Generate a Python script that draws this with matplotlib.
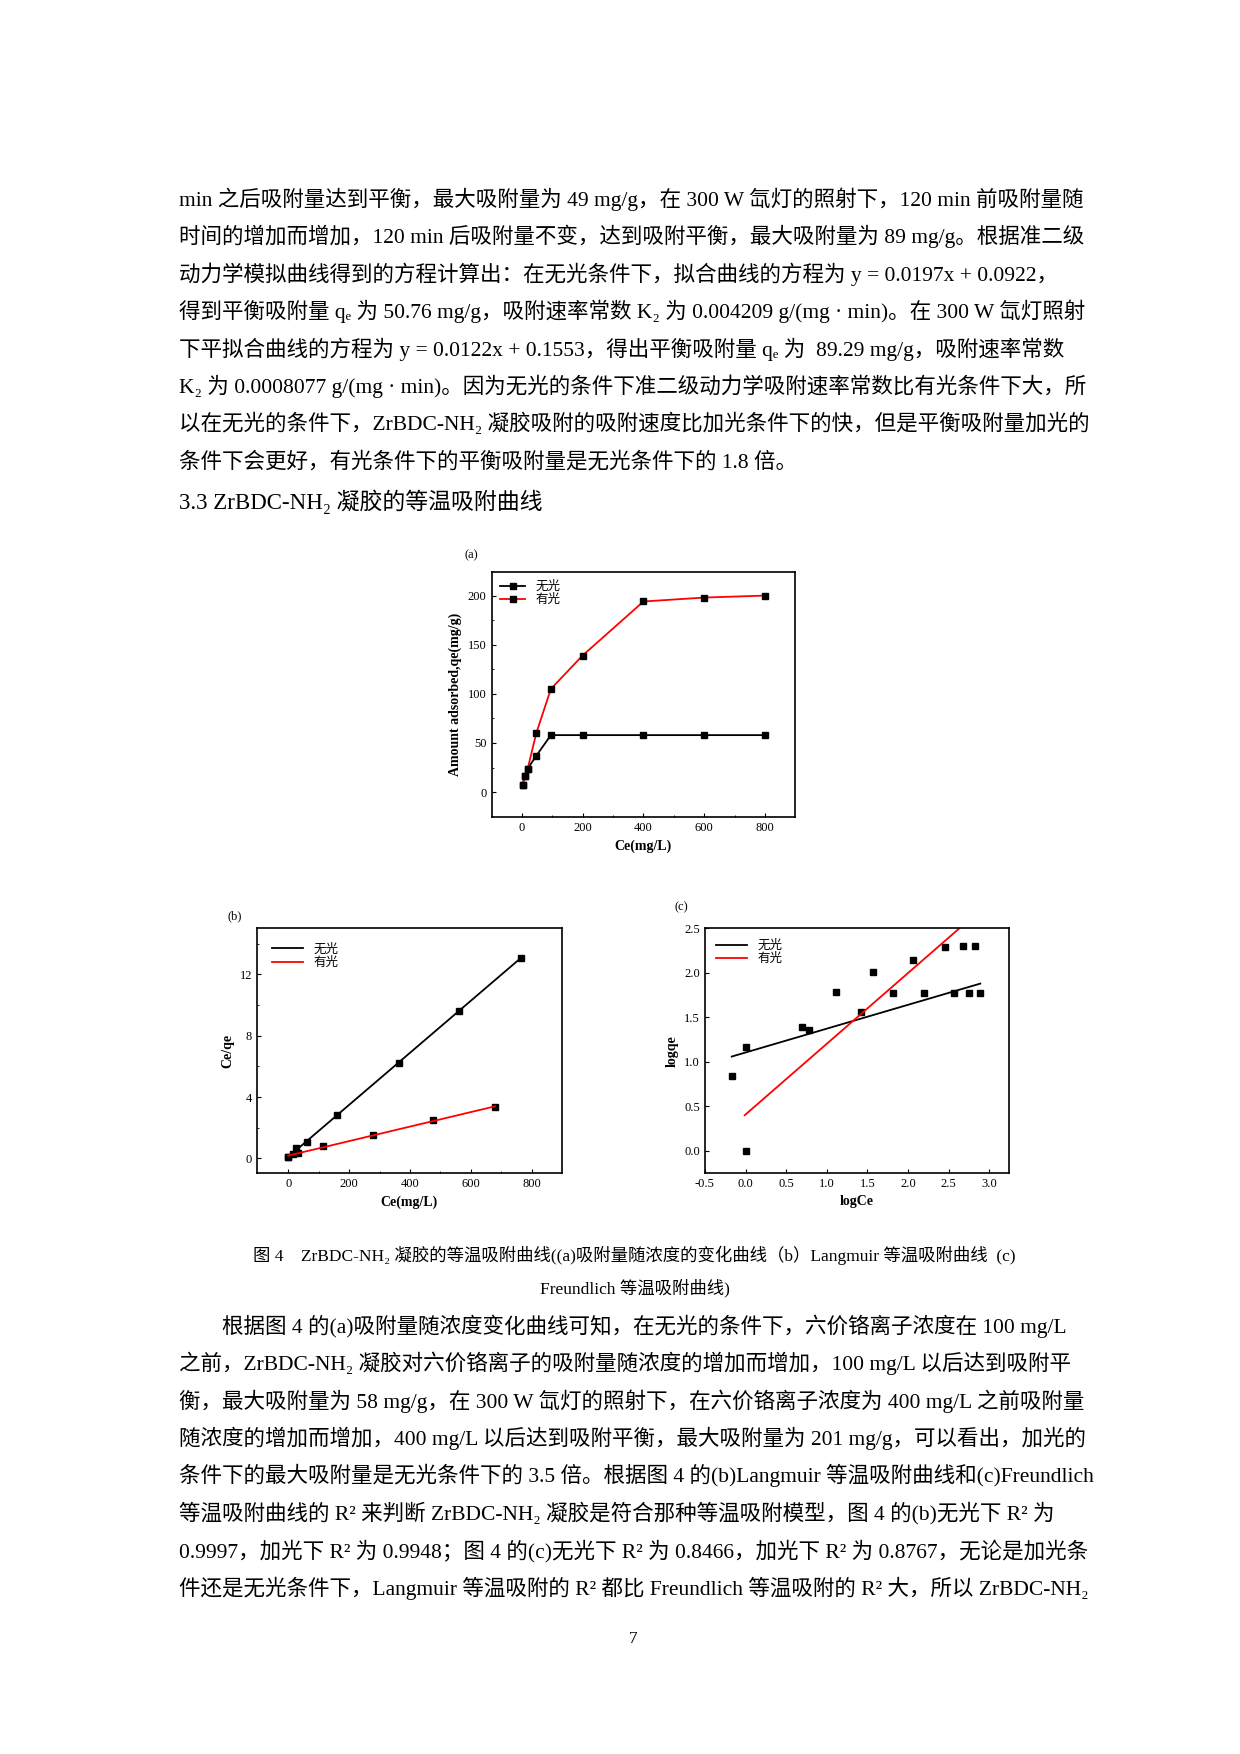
import matplotlib
matplotlib.use("Agg")
import matplotlib.pyplot as plt
import numpy as np

plt.rcParams['font.family'] = ['Liberation Serif', 'Noto Sans CJK SC', 'DejaVu Sans']

# (a) amount adsorbed vs Ce
a_ce = [3, 10, 20, 48, 96, 200, 400, 600, 800]
a_dark = [7, 16, 24, 37, 58, 58, 58, 58, 58]
a_light = [7, 16, 24, 60, 105, 139, 194, 198, 200]
# (b) Langmuir
b_dark_x = [0, 15, 26, 62, 161, 363, 561, 763]
b_dark_y = [0.1, 0.3, 0.7, 1.1, 2.84, 6.2, 9.6, 13.1]
b_light_x = [0, 33, 114, 279, 477, 679]
b_light_y = [0.1, 0.36, 0.8, 1.5, 2.5, 3.35]
# (c) Freundlich
c_x = [-0.17, 0.0, 0.0, 0.70, 0.78, 1.11, 1.42, 1.57, 1.82, 2.06, 2.20, 2.45, 2.56, 2.68, 2.75, 2.83, 2.89]
c_y = [0.84, 1.17, 0.0, 1.39, 1.36, 1.78, 1.56, 2.01, 1.77, 2.14, 1.77, 2.29, 1.77, 2.30, 1.77, 2.30, 1.77]
c_dark_fit = [0.268, 1.105]   # slope, intercept
c_dark_range = [-0.17, 2.89]
c_light_fit = [0.795, 0.408]
c_light_range = [-0.01, 2.64]

W, H = 1110.0, 1570.0
fig = plt.figure(figsize=(12.4, 17.54), dpi=100)

def T(x, y, s, size=15.5, **kw):
    fig.text(x / W, 1 - y / H, s, fontsize=size, va='center', **kw)

def ax_at(x0, x1, y0, y1):
    return fig.add_axes([x0 / W, 1 - y1 / H, (x1 - x0) / W, (y1 - y0) / H])

top = [
 "min 之后吸附量达到平衡，最大吸附量为 49 mg/g，在 300 W 氙灯的照射下，120 min 前吸附量随",
 "时间的增加而增加，120 min 后吸附量不变，达到吸附平衡，最大吸附量为 89 mg/g。根据准二级",
 "动力学模拟曲线得到的方程计算出：在无光条件下，拟合曲线的方程为 y = 0.0197x + 0.0922，",
 "得到平衡吸附量 qₑ 为 50.76 mg/g，吸附速率常数 K₂ 为 0.004209 g/(mg · min)。在 300 W 氙灯照射",
 "下平拟合曲线的方程为 y = 0.0122x + 0.1553，得出平衡吸附量 qₑ 为  89.29 mg/g，吸附速率常数",
 "K₂ 为 0.0008077 g/(mg · min)。因为无光的条件下准二级动力学吸附速率常数比有光条件下大，所",
 "以在无光的条件下，ZrBDC-NH₂ 凝胶吸附的吸附速度比加光条件下的快，但是平衡吸附量加光的",
 "条件下会更好，有光条件下的平衡吸附量是无光条件下的 1.8 倍。",
]
for i, s in enumerate(top):
    T(160, 178 + i * 33.6, s)
T(160, 449, "3.3 ZrBDC-NH₂ 凝胶的等温吸附曲线", size=16.5)

bottom = [
 "　　根据图 4 的(a)吸附量随浓度变化曲线可知，在无光的条件下，六价铬离子浓度在 100 mg/L",
 "之前，ZrBDC-NH₂ 凝胶对六价铬离子的吸附量随浓度的增加而增加，100 mg/L 以后达到吸附平",
 "衡，最大吸附量为 58 mg/g，在 300 W 氙灯的照射下，在六价铬离子浓度为 400 mg/L 之前吸附量",
 "随浓度的增加而增加，400 mg/L 以后达到吸附平衡，最大吸附量为 201 mg/g，可以看出，加光的",
 "条件下的最大吸附量是无光条件下的 3.5 倍。根据图 4 的(b)Langmuir 等温吸附曲线和(c)Freundlich",
 "等温吸附曲线的 R² 来判断 ZrBDC-NH₂ 凝胶是符合那种等温吸附模型，图 4 的(b)无光下 R² 为",
 "0.9997，加光下 R² 为 0.9948；图 4 的(c)无光下 R² 为 0.8466，加光下 R² 为 0.8767，无论是加光条",
 "件还是无光条件下，Langmuir 等温吸附的 R² 都比 Freundlich 等温吸附的 R² 大，所以 ZrBDC-NH₂",
]
for i, s in enumerate(bottom):
    T(160, 1187 + i * 33.5, s)

T(568, 1124, "图 4　ZrBDC-NH₂ 凝胶的等温吸附曲线((a)吸附量随浓度的变化曲线（b）Langmuir 等温吸附曲线  (c)", size=12.5, ha='center')
T(568, 1153, "Freundlich 等温吸附曲线)", size=12.5, ha='center')
T(567, 1467, "7", size=12.5, ha='center')

def style(ax):
    ax.tick_params(direction='in', labelsize=9, length=3, width=0.8)
    ax.tick_params(which='minor', direction='in', length=1.5)
    for sp in ax.spines.values():
        sp.set_linewidth(1.2)

ms = 4
# (a)
ax = ax_at(440, 712, 512, 731)
ax.plot(a_ce, a_dark, '-s', color='black', ms=ms, mfc='black', mec='black', lw=1.3, label='无光')
ax.plot(a_ce, a_light, '-s', color='red', ms=ms, mfc='black', mec='black', lw=1.3, label='有光')
ax.set_xlim(-99, 899); ax.set_ylim(-25, 224)
ax.set_xticks([0, 200, 400, 600, 800]); ax.set_yticks([0, 50, 100, 150, 200])
ax.set_xticks([100, 300, 500, 700], minor=True)
ax.set_yticks([25, 75, 125, 175], minor=True)
ax.set_xlabel('Ce(mg/L)', fontsize=10, fontweight='bold')
ax.set_ylabel('Amount adsorbed,qe(mg/g)', fontsize=10, fontweight='bold')
ax.legend(loc='upper left', frameon=False, fontsize=9, handlelength=2, borderaxespad=0.3, labelspacing=0.1)
style(ax)
T(416, 497, '(a)', size=9)

# (b)
ax = ax_at(230, 503, 831, 1050)
for xs, ys, c, lab in [(b_dark_x, b_dark_y, 'black', '无光'), (b_light_x, b_light_y, 'red', '有光')]:
    ax.plot(xs, ys, 's', color='black', ms=ms)
    k, b0 = np.polyfit(xs, ys, 1)
    xx = np.array([xs[0], xs[-1]])
    ax.plot(xx, k * xx + b0, '-', color=c, lw=1.3, label=lab)
ax.set_xlim(-103, 899); ax.set_ylim(-0.95, 15)
ax.set_xticks([0, 200, 400, 600, 800]); ax.set_yticks([0, 4, 8, 12])
ax.set_xticks([100, 300, 500, 700], minor=True)
ax.set_yticks([2, 6, 10, 14], minor=True)
ax.set_xlabel('Ce(mg/L)', fontsize=10, fontweight='bold')
ax.set_ylabel('Ce/qe', fontsize=10, fontweight='bold')
ax.legend(loc='upper left', frameon=False, fontsize=9, handlelength=2.5, borderaxespad=0.8, labelspacing=0.1)
style(ax)
T(204, 820, '(b)', size=9)

# (c)
ax = ax_at(631, 903, 831, 1050)
ax.plot(c_x, c_y, 's', color='black', ms=ms, ls='none')
for fit, rng, c, lab in [(c_dark_fit, c_dark_range, 'black', '无光'), (c_light_fit, c_light_range, 'red', '有光')]:
    xx = np.array(rng)
    ax.plot(xx, fit[0] * xx + fit[1], '-', color=c, lw=1.3, label=lab)
ax.set_xlim(-0.5, 3.24); ax.set_ylim(-0.25, 2.5)
ax.set_xticks([-0.5, 0, 0.5, 1, 1.5, 2, 2.5, 3])
ax.set_xticklabels(['-0.5', '0.0', '0.5', '1.0', '1.5', '2.0', '2.5', '3.0'])
ax.set_yticks([0, 0.5, 1, 1.5, 2, 2.5])
ax.set_yticklabels(['0.0', '0.5', '1.0', '1.5', '2.0', '2.5'])
ax.set_xlabel('logCe', fontsize=10, fontweight='bold')
ax.set_ylabel('logqe', fontsize=10, fontweight='bold')
ax.legend(loc='upper left', frameon=False, fontsize=9, handlelength=2.5, borderaxespad=0.5, labelspacing=0.1)
style(ax)
T(604, 812, '(c)', size=9)

fig.savefig('out.png', dpi=100)
